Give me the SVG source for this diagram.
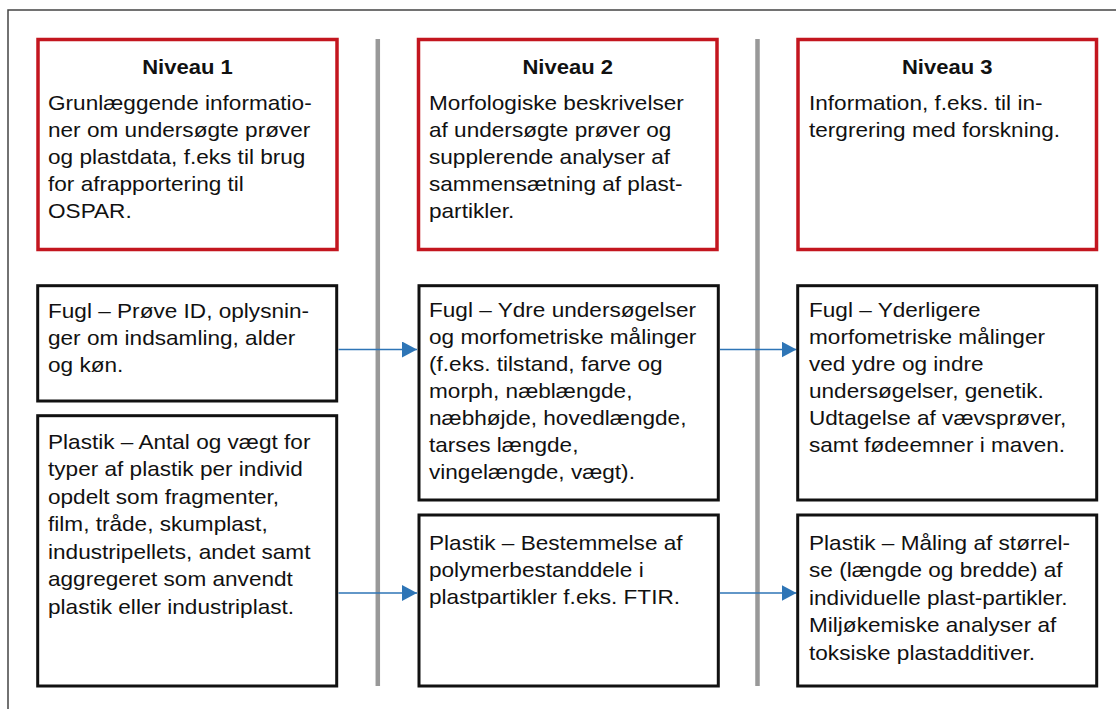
<svg xmlns="http://www.w3.org/2000/svg" width="1116" height="709" viewBox="0 0 1116 709">
<defs>
<style>
.frame{fill:none;stroke:#444;stroke-width:1.5}
.hdr{fill:#fff;stroke:#c3161f;stroke-width:3.5}
.box{fill:#fff;stroke:#111;stroke-width:3}
.sep{stroke:#999;stroke-width:4.5}
.con{stroke:#2e75b6;stroke-width:1.7;fill:none}
text{font-family:"Liberation Sans",Arial,sans-serif;fill:#111}
.t{font-size:19.5px;font-weight:bold;text-anchor:middle}
.b{font-size:20px}
</style>
<marker id="ah" markerUnits="userSpaceOnUse" markerWidth="16" markerHeight="17" refX="15" refY="8" orient="auto">
<path d="M0,0 L15,8 L0,16 Z" fill="#2e75b6"/>
</marker>
</defs>
<rect x="0" y="0" width="1116" height="709" fill="#fff"/>
<rect class="frame" x="8" y="10" width="1130" height="720"/>
<g id="separators">
<line class="sep" x1="377.8" y1="39" x2="377.8" y2="686"/>
<line class="sep" x1="757.5" y1="39" x2="757.5" y2="686"/>
</g>
<g id="connectors">
<line class="con" x1="338.5" y1="349.5" x2="417" y2="349.5" marker-end="url(#ah)"/>
<line class="con" x1="720" y1="349.5" x2="796.5" y2="349.5" marker-end="url(#ah)"/>
<line class="con" x1="338.5" y1="593" x2="417" y2="593" marker-end="url(#ah)"/>
<line class="con" x1="720" y1="593" x2="796.5" y2="593" marker-end="url(#ah)"/>
</g>
<g id="niveau1">
<rect class="hdr" x="38" y="39.5" width="299" height="210"/>
<g transform="translate(187.5,0) scale(1.13,1)"><text class="t" x="0" y="74">Niveau 1</text></g>
<g transform="translate(48,0) scale(1.13,1)"><text class="b">
<tspan x="0" y="110">Grunlæggende informatio-</tspan>
<tspan x="0" y="137">ner om undersøgte prøver</tspan>
<tspan x="0" y="164">og plastdata, f.eks til brug</tspan>
<tspan x="0" y="191">for afrapportering til</tspan>
<tspan x="0" y="218">OSPAR.</tspan>
</text></g>
</g>
<g id="niveau2">
<rect class="hdr" x="418.5" y="39.5" width="298.5" height="210"/>
<g transform="translate(567.75,0) scale(1.13,1)"><text class="t" x="0" y="74">Niveau 2</text></g>
<g transform="translate(429,0) scale(1.13,1)"><text class="b">
<tspan x="0" y="110">Morfologiske beskrivelser</tspan>
<tspan x="0" y="137">af undersøgte prøver og</tspan>
<tspan x="0" y="164">supplerende analyser af</tspan>
<tspan x="0" y="191">sammensætning af plast-</tspan>
<tspan x="0" y="218">partikler.</tspan>
</text></g>
</g>
<g id="niveau3">
<rect class="hdr" x="798" y="39.5" width="298.5" height="210"/>
<g transform="translate(947.25,0) scale(1.13,1)"><text class="t" x="0" y="74">Niveau 3</text></g>
<g transform="translate(809,0) scale(1.13,1)"><text class="b">
<tspan x="0" y="110">Information, f.eks. til in-</tspan>
<tspan x="0" y="137">tergrering med forskning.</tspan>
</text></g>
</g>
<g id="fugl1">
<rect class="box" x="37.7" y="285.7" width="299" height="115.3"/>
<g transform="translate(48,0) scale(1.13,1)"><text class="b">
<tspan x="0" y="318">Fugl – Prøve ID, oplysnin-</tspan>
<tspan x="0" y="345">ger om indsamling, alder</tspan>
<tspan x="0" y="372">og køn.</tspan>
</text></g>
</g>
<g id="plastik1">
<rect class="box" x="37.7" y="415.7" width="299" height="270.3"/>
<g transform="translate(48,0) scale(1.13,1)"><text class="b">
<tspan x="0" y="449">Plastik – Antal og vægt for</tspan>
<tspan x="0" y="476.5">typer af plastik per individ</tspan>
<tspan x="0" y="504">opdelt som fragmenter,</tspan>
<tspan x="0" y="531.5">film, tråde, skumplast,</tspan>
<tspan x="0" y="559">industripellets, andet samt</tspan>
<tspan x="0" y="586.5">aggregeret som anvendt</tspan>
<tspan x="0" y="614">plastik eller industriplast.</tspan>
</text></g>
</g>
<g id="fugl2">
<rect class="box" x="419" y="285.7" width="299.3" height="214.3"/>
<g transform="translate(429,0) scale(1.13,1)"><text class="b">
<tspan x="0" y="317">Fugl – Ydre undersøgelser</tspan>
<tspan x="0" y="344">og morfometriske målinger</tspan>
<tspan x="0" y="371">(f.eks. tilstand, farve og</tspan>
<tspan x="0" y="398">morph, næblængde,</tspan>
<tspan x="0" y="425">næbhøjde, hovedlængde,</tspan>
<tspan x="0" y="452">tarses længde,</tspan>
<tspan x="0" y="479">vingelængde, vægt).</tspan>
</text></g>
</g>
<g id="plastik2">
<rect class="box" x="419" y="515" width="299.3" height="171"/>
<g transform="translate(429,0) scale(1.13,1)"><text class="b">
<tspan x="0" y="550">Plastik – Bestemmelse af</tspan>
<tspan x="0" y="577">polymerbestanddele i</tspan>
<tspan x="0" y="604">plastpartikler f.eks. FTIR.</tspan>
</text></g>
</g>
<g id="fugl3">
<rect class="box" x="797.7" y="285.7" width="299" height="214.3"/>
<g transform="translate(809,0) scale(1.13,1)"><text class="b">
<tspan x="0" y="317">Fugl – Yderligere</tspan>
<tspan x="0" y="344">morfometriske målinger</tspan>
<tspan x="0" y="371">ved ydre og indre</tspan>
<tspan x="0" y="398">undersøgelser, genetik.</tspan>
<tspan x="0" y="425">Udtagelse af vævsprøver,</tspan>
<tspan x="0" y="452">samt fødeemner i maven.</tspan>
</text></g>
</g>
<g id="plastik3">
<rect class="box" x="797.7" y="515" width="299" height="171"/>
<g transform="translate(809,0) scale(1.13,1)"><text class="b">
<tspan x="0" y="550">Plastik – Måling af størrel-</tspan>
<tspan x="0" y="577">se (længde og bredde) af</tspan>
<tspan x="0" y="605">individuelle plast-partikler.</tspan>
<tspan x="0" y="632.5">Miljøkemiske analyser af</tspan>
<tspan x="0" y="660">toksiske plastadditiver.</tspan>
</text></g>
</g>
</svg>
